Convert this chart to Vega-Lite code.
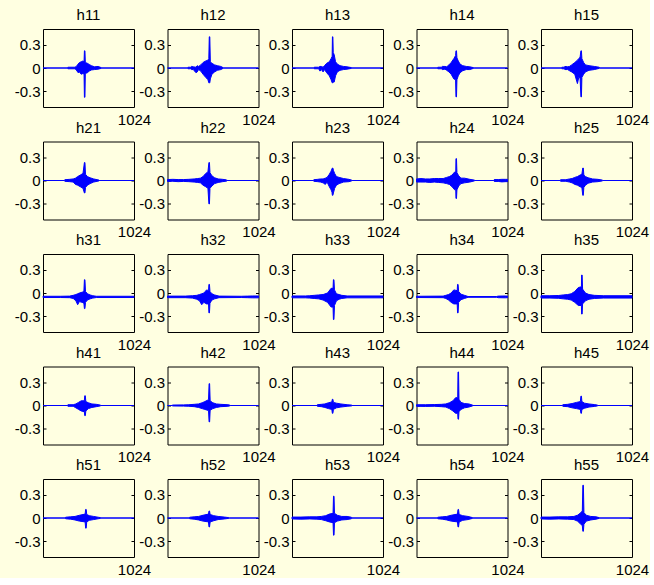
{
"$schema": "https://vega.github.io/schema/vega-lite/v6.json",
"background": "#ffffe1",
"padding": {"left": 13, "top": 7, "right": 0, "bottom": 0},
"bounds": "flush",
"config": {"font": "Liberation Sans", "view": {"stroke": "black", "strokeWidth": 1}},
"data": {"values": [
{"panel":"h11","x":0,"lo":0,"hi":0},{"panel":"h11","x":275,"lo":0,"hi":0},{"panel":"h11","x":280,"lo":-0.01,"hi":0.01},{"panel":"h11","x":360,"lo":-0.01,"hi":0.01},{"panel":"h11","x":375,"lo":-0.025,"hi":0.02},{"panel":"h11","x":395,"lo":-0.06,"hi":0.05},{"panel":"h11","x":410,"lo":-0.05,"hi":0.07},{"panel":"h11","x":430,"lo":-0.08,"hi":0.08},{"panel":"h11","x":450,"lo":-0.07,"hi":0.09},{"panel":"h11","x":462,"lo":-0.08,"hi":0.08},{"panel":"h11","x":466,"lo":-0.375,"hi":0.22},{"panel":"h11","x":472,"lo":-0.375,"hi":0.22},{"panel":"h11","x":476,"lo":-0.07,"hi":0.07},{"panel":"h11","x":500,"lo":-0.06,"hi":0.06},{"panel":"h11","x":520,"lo":-0.04,"hi":0.045},{"panel":"h11","x":545,"lo":-0.025,"hi":0.03},{"panel":"h11","x":580,"lo":-0.02,"hi":0.015},{"panel":"h11","x":620,"lo":-0.015,"hi":0.02},{"panel":"h11","x":655,"lo":-0.005,"hi":0.005},{"panel":"h11","x":662,"lo":0,"hi":0},{"panel":"h11","x":1024,"lo":0,"hi":0},
{"panel":"h12","x":0,"lo":0,"hi":0},{"panel":"h12","x":225,"lo":0,"hi":0},{"panel":"h12","x":230,"lo":-0.01,"hi":0.01},{"panel":"h12","x":260,"lo":-0.01,"hi":0.01},{"panel":"h12","x":270,"lo":-0.02,"hi":0.02},{"panel":"h12","x":290,"lo":-0.02,"hi":0.015},{"panel":"h12","x":320,"lo":-0.06,"hi":0.01},{"panel":"h12","x":335,"lo":-0.05,"hi":0.03},{"panel":"h12","x":350,"lo":-0.02,"hi":0.02},{"panel":"h12","x":375,"lo":-0.04,"hi":0.04},{"panel":"h12","x":400,"lo":-0.08,"hi":0.07},{"panel":"h12","x":430,"lo":-0.12,"hi":0.09},{"panel":"h12","x":455,"lo":-0.15,"hi":0.1},{"panel":"h12","x":465,"lo":-0.19,"hi":0.12},{"panel":"h12","x":470,"lo":-0.19,"hi":0.4},{"panel":"h12","x":476,"lo":-0.19,"hi":0.4},{"panel":"h12","x":482,"lo":-0.14,"hi":0.08},{"panel":"h12","x":500,"lo":-0.08,"hi":0.06},{"panel":"h12","x":530,"lo":-0.05,"hi":0.04},{"panel":"h12","x":560,"lo":-0.03,"hi":0.03},{"panel":"h12","x":600,"lo":-0.02,"hi":0.02},{"panel":"h12","x":625,"lo":-0.005,"hi":0.005},{"panel":"h12","x":632,"lo":0,"hi":0},{"panel":"h12","x":1024,"lo":0,"hi":0},
{"panel":"h13","x":0,"lo":0,"hi":0},{"panel":"h13","x":245,"lo":0,"hi":0},{"panel":"h13","x":250,"lo":-0.01,"hi":0.01},{"panel":"h13","x":300,"lo":-0.01,"hi":0.01},{"panel":"h13","x":315,"lo":-0.04,"hi":0.02},{"panel":"h13","x":330,"lo":-0.02,"hi":0.02},{"panel":"h13","x":350,"lo":-0.05,"hi":0.01},{"panel":"h13","x":365,"lo":-0.02,"hi":0.03},{"panel":"h13","x":390,"lo":-0.06,"hi":0.06},{"panel":"h13","x":420,"lo":-0.1,"hi":0.08},{"panel":"h13","x":440,"lo":-0.15,"hi":0.12},{"panel":"h13","x":452,"lo":-0.19,"hi":0.15},{"panel":"h13","x":455,"lo":-0.19,"hi":0.4},{"panel":"h13","x":460,"lo":-0.19,"hi":0.4},{"panel":"h13","x":464,"lo":-0.18,"hi":0.2},{"panel":"h13","x":475,"lo":-0.18,"hi":0.17},{"panel":"h13","x":490,"lo":-0.1,"hi":0.08},{"panel":"h13","x":510,"lo":-0.05,"hi":0.05},{"panel":"h13","x":540,"lo":-0.03,"hi":0.03},{"panel":"h13","x":580,"lo":-0.02,"hi":0.02},{"panel":"h13","x":620,"lo":-0.015,"hi":0.015},{"panel":"h13","x":670,"lo":-0.005,"hi":0.005},{"panel":"h13","x":675,"lo":0,"hi":0},{"panel":"h13","x":1024,"lo":0,"hi":0},
{"panel":"h14","x":0,"lo":0,"hi":0},{"panel":"h14","x":235,"lo":0,"hi":0},{"panel":"h14","x":240,"lo":-0.01,"hi":0.01},{"panel":"h14","x":280,"lo":-0.01,"hi":0.01},{"panel":"h14","x":290,"lo":-0.02,"hi":0.02},{"panel":"h14","x":320,"lo":-0.015,"hi":0.02},{"panel":"h14","x":340,"lo":-0.03,"hi":0.015},{"panel":"h14","x":365,"lo":-0.05,"hi":0.04},{"panel":"h14","x":390,"lo":-0.08,"hi":0.07},{"panel":"h14","x":420,"lo":-0.14,"hi":0.12},{"panel":"h14","x":440,"lo":-0.15,"hi":0.16},{"panel":"h14","x":444,"lo":-0.37,"hi":0.22},{"panel":"h14","x":450,"lo":-0.37,"hi":0.22},{"panel":"h14","x":455,"lo":-0.15,"hi":0.13},{"panel":"h14","x":470,"lo":-0.1,"hi":0.09},{"panel":"h14","x":490,"lo":-0.06,"hi":0.05},{"panel":"h14","x":520,"lo":-0.035,"hi":0.03},{"panel":"h14","x":560,"lo":-0.02,"hi":0.02},{"panel":"h14","x":600,"lo":-0.02,"hi":0.015},{"panel":"h14","x":640,"lo":-0.005,"hi":0.005},{"panel":"h14","x":648,"lo":0,"hi":0},{"panel":"h14","x":1024,"lo":0,"hi":0},
{"panel":"h15","x":0,"lo":0,"hi":0},{"panel":"h15","x":230,"lo":0,"hi":0},{"panel":"h15","x":235,"lo":-0.01,"hi":0.01},{"panel":"h15","x":260,"lo":-0.01,"hi":0.01},{"panel":"h15","x":270,"lo":-0.02,"hi":0.02},{"panel":"h15","x":300,"lo":-0.02,"hi":0.015},{"panel":"h15","x":320,"lo":-0.035,"hi":0.02},{"panel":"h15","x":345,"lo":-0.05,"hi":0.04},{"panel":"h15","x":380,"lo":-0.08,"hi":0.07},{"panel":"h15","x":410,"lo":-0.2,"hi":0.1},{"panel":"h15","x":425,"lo":-0.12,"hi":0.12},{"panel":"h15","x":440,"lo":-0.13,"hi":0.14},{"panel":"h15","x":449,"lo":-0.37,"hi":0.22},{"panel":"h15","x":455,"lo":-0.37,"hi":0.22},{"panel":"h15","x":460,"lo":-0.12,"hi":0.12},{"panel":"h15","x":480,"lo":-0.08,"hi":0.07},{"panel":"h15","x":500,"lo":-0.05,"hi":0.04},{"panel":"h15","x":540,"lo":-0.03,"hi":0.03},{"panel":"h15","x":600,"lo":-0.02,"hi":0.02},{"panel":"h15","x":655,"lo":-0.005,"hi":0.01},{"panel":"h15","x":662,"lo":0,"hi":0},{"panel":"h15","x":1024,"lo":0,"hi":0},
{"panel":"h21","x":0,"lo":0,"hi":0},{"panel":"h21","x":240,"lo":0,"hi":0},{"panel":"h21","x":245,"lo":-0.01,"hi":0.01},{"panel":"h21","x":300,"lo":-0.015,"hi":0.015},{"panel":"h21","x":340,"lo":-0.02,"hi":0.02},{"panel":"h21","x":365,"lo":-0.05,"hi":0.03},{"panel":"h21","x":390,"lo":-0.06,"hi":0.05},{"panel":"h21","x":420,"lo":-0.08,"hi":0.07},{"panel":"h21","x":450,"lo":-0.1,"hi":0.09},{"panel":"h21","x":466,"lo":-0.16,"hi":0.23},{"panel":"h21","x":472,"lo":-0.16,"hi":0.23},{"panel":"h21","x":478,"lo":-0.09,"hi":0.08},{"panel":"h21","x":500,"lo":-0.06,"hi":0.05},{"panel":"h21","x":530,"lo":-0.04,"hi":0.035},{"panel":"h21","x":570,"lo":-0.02,"hi":0.02},{"panel":"h21","x":630,"lo":-0.005,"hi":0.005},{"panel":"h21","x":636,"lo":0,"hi":0},{"panel":"h21","x":1024,"lo":0,"hi":0},
{"panel":"h22","x":0,"lo":-0.012,"hi":0.012},{"panel":"h22","x":60,"lo":-0.01,"hi":0.015},{"panel":"h22","x":120,"lo":-0.015,"hi":0.012},{"panel":"h22","x":180,"lo":-0.012,"hi":0.012},{"panel":"h22","x":240,"lo":-0.015,"hi":0.015},{"panel":"h22","x":300,"lo":-0.02,"hi":0.02},{"panel":"h22","x":340,"lo":-0.025,"hi":0.025},{"panel":"h22","x":370,"lo":-0.03,"hi":0.03},{"panel":"h22","x":400,"lo":-0.06,"hi":0.05},{"panel":"h22","x":430,"lo":-0.08,"hi":0.09},{"panel":"h22","x":455,"lo":-0.1,"hi":0.11},{"panel":"h22","x":466,"lo":-0.3,"hi":0.23},{"panel":"h22","x":472,"lo":-0.3,"hi":0.23},{"panel":"h22","x":478,"lo":-0.1,"hi":0.1},{"panel":"h22","x":500,"lo":-0.07,"hi":0.06},{"panel":"h22","x":530,"lo":-0.04,"hi":0.035},{"panel":"h22","x":570,"lo":-0.025,"hi":0.02},{"panel":"h22","x":620,"lo":-0.015,"hi":0.015},{"panel":"h22","x":665,"lo":-0.008,"hi":0.008},{"panel":"h22","x":672,"lo":0,"hi":0},{"panel":"h22","x":1024,"lo":0,"hi":0},
{"panel":"h23","x":0,"lo":0,"hi":0},{"panel":"h23","x":240,"lo":0,"hi":0},{"panel":"h23","x":245,"lo":-0.01,"hi":0.01},{"panel":"h23","x":290,"lo":-0.015,"hi":0.015},{"panel":"h23","x":320,"lo":-0.02,"hi":0.02},{"panel":"h23","x":350,"lo":-0.03,"hi":0.02},{"panel":"h23","x":375,"lo":-0.05,"hi":0.03},{"panel":"h23","x":395,"lo":-0.02,"hi":0.04},{"panel":"h23","x":420,"lo":-0.08,"hi":0.08},{"panel":"h23","x":440,"lo":-0.12,"hi":0.12},{"panel":"h23","x":450,"lo":-0.15,"hi":0.15},{"panel":"h23","x":454,"lo":-0.19,"hi":0.16},{"panel":"h23","x":460,"lo":-0.19,"hi":0.16},{"panel":"h23","x":466,"lo":-0.16,"hi":0.13},{"panel":"h23","x":480,"lo":-0.1,"hi":0.09},{"panel":"h23","x":500,"lo":-0.06,"hi":0.05},{"panel":"h23","x":530,"lo":-0.04,"hi":0.04},{"panel":"h23","x":580,"lo":-0.02,"hi":0.025},{"panel":"h23","x":640,"lo":-0.015,"hi":0.015},{"panel":"h23","x":670,"lo":-0.005,"hi":0.005},{"panel":"h23","x":675,"lo":0,"hi":0},{"panel":"h23","x":1024,"lo":0,"hi":0},
{"panel":"h24","x":0,"lo":-0.02,"hi":0.02},{"panel":"h24","x":50,"lo":-0.02,"hi":0.025},{"panel":"h24","x":100,"lo":-0.02,"hi":0.02},{"panel":"h24","x":150,"lo":-0.025,"hi":0.02},{"panel":"h24","x":200,"lo":-0.02,"hi":0.025},{"panel":"h24","x":250,"lo":-0.025,"hi":0.025},{"panel":"h24","x":300,"lo":-0.03,"hi":0.025},{"panel":"h24","x":340,"lo":-0.04,"hi":0.04},{"panel":"h24","x":370,"lo":-0.05,"hi":0.05},{"panel":"h24","x":400,"lo":-0.08,"hi":0.07},{"panel":"h24","x":430,"lo":-0.12,"hi":0.11},{"panel":"h24","x":442,"lo":-0.12,"hi":0.11},{"panel":"h24","x":444,"lo":-0.23,"hi":0.28},{"panel":"h24","x":450,"lo":-0.23,"hi":0.28},{"panel":"h24","x":455,"lo":-0.12,"hi":0.1},{"panel":"h24","x":475,"lo":-0.07,"hi":0.06},{"panel":"h24","x":500,"lo":-0.04,"hi":0.03},{"panel":"h24","x":540,"lo":-0.03,"hi":0.03},{"panel":"h24","x":600,"lo":-0.02,"hi":0.015},{"panel":"h24","x":650,"lo":-0.005,"hi":0.005},{"panel":"h24","x":658,"lo":0,"hi":0},{"panel":"h24","x":868,"lo":0,"hi":0},{"panel":"h24","x":875,"lo":-0.012,"hi":0.012},{"panel":"h24","x":920,"lo":-0.012,"hi":0.012},{"panel":"h24","x":960,"lo":-0.018,"hi":0.015},{"panel":"h24","x":1000,"lo":-0.015,"hi":0.015},{"panel":"h24","x":1024,"lo":-0.015,"hi":0.015},
{"panel":"h25","x":0,"lo":0,"hi":0},{"panel":"h25","x":215,"lo":0,"hi":0},{"panel":"h25","x":220,"lo":-0.01,"hi":0.01},{"panel":"h25","x":280,"lo":-0.01,"hi":0.01},{"panel":"h25","x":320,"lo":-0.02,"hi":0.02},{"panel":"h25","x":350,"lo":-0.03,"hi":0.025},{"panel":"h25","x":380,"lo":-0.05,"hi":0.04},{"panel":"h25","x":410,"lo":-0.06,"hi":0.05},{"panel":"h25","x":440,"lo":-0.08,"hi":0.07},{"panel":"h25","x":460,"lo":-0.09,"hi":0.08},{"panel":"h25","x":470,"lo":-0.19,"hi":0.16},{"panel":"h25","x":476,"lo":-0.19,"hi":0.16},{"panel":"h25","x":482,"lo":-0.09,"hi":0.07},{"panel":"h25","x":500,"lo":-0.06,"hi":0.05},{"panel":"h25","x":530,"lo":-0.035,"hi":0.035},{"panel":"h25","x":580,"lo":-0.02,"hi":0.02},{"panel":"h25","x":640,"lo":-0.015,"hi":0.015},{"panel":"h25","x":690,"lo":-0.005,"hi":0.005},{"panel":"h25","x":696,"lo":0,"hi":0},{"panel":"h25","x":1024,"lo":0,"hi":0},
{"panel":"h31","x":0,"lo":-0.058,"hi":-0.042},{"panel":"h31","x":200,"lo":-0.058,"hi":-0.042},{"panel":"h31","x":300,"lo":-0.06,"hi":-0.04},{"panel":"h31","x":340,"lo":-0.07,"hi":-0.03},{"panel":"h31","x":370,"lo":-0.1,"hi":-0.02},{"panel":"h31","x":390,"lo":-0.15,"hi":-0.01},{"panel":"h31","x":410,"lo":-0.11,"hi":0.0},{"panel":"h31","x":440,"lo":-0.12,"hi":0.01},{"panel":"h31","x":460,"lo":-0.13,"hi":0.02},{"panel":"h31","x":466,"lo":-0.2,"hi":0.17},{"panel":"h31","x":472,"lo":-0.2,"hi":0.17},{"panel":"h31","x":478,"lo":-0.12,"hi":0.02},{"panel":"h31","x":500,"lo":-0.09,"hi":-0.01},{"panel":"h31","x":530,"lo":-0.075,"hi":-0.025},{"panel":"h31","x":560,"lo":-0.065,"hi":-0.035},{"panel":"h31","x":600,"lo":-0.058,"hi":-0.042},{"panel":"h31","x":1024,"lo":-0.058,"hi":-0.042},
{"panel":"h32","x":0,"lo":-0.06,"hi":-0.04},{"panel":"h32","x":200,"lo":-0.06,"hi":-0.04},{"panel":"h32","x":280,"lo":-0.065,"hi":-0.035},{"panel":"h32","x":330,"lo":-0.08,"hi":-0.03},{"panel":"h32","x":360,"lo":-0.1,"hi":-0.02},{"panel":"h32","x":385,"lo":-0.15,"hi":-0.01},{"panel":"h32","x":410,"lo":-0.12,"hi":0.0},{"panel":"h32","x":440,"lo":-0.14,"hi":0.04},{"panel":"h32","x":462,"lo":-0.14,"hi":0.03},{"panel":"h32","x":466,"lo":-0.255,"hi":0.11},{"panel":"h32","x":472,"lo":-0.255,"hi":0.11},{"panel":"h32","x":478,"lo":-0.13,"hi":0.02},{"panel":"h32","x":500,"lo":-0.09,"hi":-0.01},{"panel":"h32","x":530,"lo":-0.075,"hi":-0.025},{"panel":"h32","x":580,"lo":-0.06,"hi":-0.04},{"panel":"h32","x":830,"lo":-0.058,"hi":-0.042},{"panel":"h32","x":900,"lo":-0.06,"hi":-0.04},{"panel":"h32","x":960,"lo":-0.062,"hi":-0.038},{"panel":"h32","x":1024,"lo":-0.062,"hi":-0.038},
{"panel":"h33","x":0,"lo":-0.062,"hi":-0.038},{"panel":"h33","x":150,"lo":-0.062,"hi":-0.038},{"panel":"h33","x":200,"lo":-0.065,"hi":-0.035},{"panel":"h33","x":250,"lo":-0.07,"hi":-0.03},{"panel":"h33","x":300,"lo":-0.075,"hi":-0.025},{"panel":"h33","x":350,"lo":-0.09,"hi":-0.02},{"panel":"h33","x":400,"lo":-0.12,"hi":0.0},{"panel":"h33","x":440,"lo":-0.18,"hi":0.06},{"panel":"h33","x":462,"lo":-0.18,"hi":0.06},{"panel":"h33","x":466,"lo":-0.34,"hi":0.17},{"panel":"h33","x":472,"lo":-0.34,"hi":0.17},{"panel":"h33","x":478,"lo":-0.16,"hi":0.04},{"panel":"h33","x":500,"lo":-0.1,"hi":-0.01},{"panel":"h33","x":530,"lo":-0.08,"hi":-0.02},{"panel":"h33","x":560,"lo":-0.07,"hi":-0.03},{"panel":"h33","x":620,"lo":-0.062,"hi":-0.038},{"panel":"h33","x":1024,"lo":-0.062,"hi":-0.038},
{"panel":"h34","x":0,"lo":-0.058,"hi":-0.042},{"panel":"h34","x":300,"lo":-0.06,"hi":-0.04},{"panel":"h34","x":330,"lo":-0.07,"hi":-0.03},{"panel":"h34","x":360,"lo":-0.09,"hi":-0.02},{"panel":"h34","x":390,"lo":-0.12,"hi":0.0},{"panel":"h34","x":420,"lo":-0.14,"hi":0.04},{"panel":"h34","x":458,"lo":-0.14,"hi":0.03},{"panel":"h34","x":462,"lo":-0.255,"hi":0.11},{"panel":"h34","x":468,"lo":-0.255,"hi":0.11},{"panel":"h34","x":474,"lo":-0.12,"hi":0.02},{"panel":"h34","x":500,"lo":-0.085,"hi":-0.015},{"panel":"h34","x":540,"lo":-0.07,"hi":-0.03},{"panel":"h34","x":580,"lo":-0.055,"hi":-0.045},{"panel":"h34","x":900,"lo":-0.055,"hi":-0.045},{"panel":"h34","x":920,"lo":-0.06,"hi":-0.04},{"panel":"h34","x":1000,"lo":-0.062,"hi":-0.038},{"panel":"h34","x":1024,"lo":-0.06,"hi":-0.04},
{"panel":"h35","x":0,"lo":-0.065,"hi":-0.035},{"panel":"h35","x":100,"lo":-0.065,"hi":-0.035},{"panel":"h35","x":200,"lo":-0.068,"hi":-0.032},{"panel":"h35","x":250,"lo":-0.075,"hi":-0.025},{"panel":"h35","x":300,"lo":-0.08,"hi":-0.02},{"panel":"h35","x":340,"lo":-0.09,"hi":-0.01},{"panel":"h35","x":380,"lo":-0.12,"hi":0.02},{"panel":"h35","x":420,"lo":-0.16,"hi":0.07},{"panel":"h35","x":455,"lo":-0.16,"hi":0.08},{"panel":"h35","x":457,"lo":-0.27,"hi":0.23},{"panel":"h35","x":463,"lo":-0.27,"hi":0.23},{"panel":"h35","x":468,"lo":-0.14,"hi":0.05},{"panel":"h35","x":500,"lo":-0.1,"hi":0.0},{"panel":"h35","x":540,"lo":-0.08,"hi":-0.02},{"panel":"h35","x":600,"lo":-0.07,"hi":-0.03},{"panel":"h35","x":700,"lo":-0.065,"hi":-0.035},{"panel":"h35","x":1024,"lo":-0.065,"hi":-0.035},
{"panel":"h41","x":0,"lo":0,"hi":0},{"panel":"h41","x":275,"lo":0,"hi":0},{"panel":"h41","x":280,"lo":-0.01,"hi":0.01},{"panel":"h41","x":340,"lo":-0.01,"hi":0.01},{"panel":"h41","x":370,"lo":-0.03,"hi":0.02},{"panel":"h41","x":400,"lo":-0.05,"hi":0.04},{"panel":"h41","x":430,"lo":-0.07,"hi":0.06},{"panel":"h41","x":465,"lo":-0.08,"hi":0.06},{"panel":"h41","x":470,"lo":-0.13,"hi":0.125},{"panel":"h41","x":476,"lo":-0.13,"hi":0.125},{"panel":"h41","x":482,"lo":-0.07,"hi":0.05},{"panel":"h41","x":510,"lo":-0.04,"hi":0.035},{"panel":"h41","x":550,"lo":-0.025,"hi":0.02},{"panel":"h41","x":600,"lo":-0.015,"hi":0.015},{"panel":"h41","x":645,"lo":-0.005,"hi":0.005},{"panel":"h41","x":651,"lo":0,"hi":0},{"panel":"h41","x":1024,"lo":0,"hi":0},
{"panel":"h42","x":0,"lo":0,"hi":0},{"panel":"h42","x":50,"lo":0,"hi":0},{"panel":"h42","x":60,"lo":-0.006,"hi":0.006},{"panel":"h42","x":180,"lo":-0.008,"hi":0.008},{"panel":"h42","x":240,"lo":-0.01,"hi":0.01},{"panel":"h42","x":300,"lo":-0.015,"hi":0.015},{"panel":"h42","x":350,"lo":-0.025,"hi":0.02},{"panel":"h42","x":390,"lo":-0.04,"hi":0.035},{"panel":"h42","x":420,"lo":-0.05,"hi":0.05},{"panel":"h42","x":462,"lo":-0.065,"hi":0.075},{"panel":"h42","x":468,"lo":-0.21,"hi":0.28},{"panel":"h42","x":474,"lo":-0.21,"hi":0.28},{"panel":"h42","x":480,"lo":-0.06,"hi":0.06},{"panel":"h42","x":510,"lo":-0.04,"hi":0.035},{"panel":"h42","x":550,"lo":-0.025,"hi":0.02},{"panel":"h42","x":600,"lo":-0.015,"hi":0.015},{"panel":"h42","x":680,"lo":-0.01,"hi":0.01},{"panel":"h42","x":700,"lo":-0.005,"hi":0.005},{"panel":"h42","x":710,"lo":0,"hi":0},{"panel":"h42","x":1024,"lo":0,"hi":0},
{"panel":"h43","x":0,"lo":0,"hi":0},{"panel":"h43","x":280,"lo":0,"hi":0},{"panel":"h43","x":285,"lo":-0.01,"hi":0.01},{"panel":"h43","x":330,"lo":-0.015,"hi":0.015},{"panel":"h43","x":370,"lo":-0.025,"hi":0.02},{"panel":"h43","x":410,"lo":-0.04,"hi":0.035},{"panel":"h43","x":448,"lo":-0.05,"hi":0.045},{"panel":"h43","x":454,"lo":-0.1,"hi":0.08},{"panel":"h43","x":460,"lo":-0.1,"hi":0.08},{"panel":"h43","x":466,"lo":-0.05,"hi":0.04},{"panel":"h43","x":500,"lo":-0.03,"hi":0.03},{"panel":"h43","x":550,"lo":-0.02,"hi":0.02},{"panel":"h43","x":620,"lo":-0.01,"hi":0.01},{"panel":"h43","x":670,"lo":-0.005,"hi":0.005},{"panel":"h43","x":675,"lo":0,"hi":0},{"panel":"h43","x":1024,"lo":0,"hi":0},
{"panel":"h44","x":0,"lo":-0.01,"hi":0.01},{"panel":"h44","x":100,"lo":-0.012,"hi":0.01},{"panel":"h44","x":200,"lo":-0.01,"hi":0.012},{"panel":"h44","x":280,"lo":-0.015,"hi":0.015},{"panel":"h44","x":330,"lo":-0.02,"hi":0.02},{"panel":"h44","x":370,"lo":-0.04,"hi":0.035},{"panel":"h44","x":410,"lo":-0.07,"hi":0.06},{"panel":"h44","x":440,"lo":-0.1,"hi":0.1},{"panel":"h44","x":464,"lo":-0.1,"hi":0.1},{"panel":"h44","x":467,"lo":-0.175,"hi":0.43},{"panel":"h44","x":473,"lo":-0.175,"hi":0.43},{"panel":"h44","x":478,"lo":-0.08,"hi":0.08},{"panel":"h44","x":500,"lo":-0.05,"hi":0.04},{"panel":"h44","x":540,"lo":-0.03,"hi":0.025},{"panel":"h44","x":590,"lo":-0.02,"hi":0.02},{"panel":"h44","x":630,"lo":-0.005,"hi":0.005},{"panel":"h44","x":636,"lo":0,"hi":0},{"panel":"h44","x":1024,"lo":0,"hi":0},
{"panel":"h45","x":0,"lo":0,"hi":0},{"panel":"h45","x":240,"lo":0,"hi":0},{"panel":"h45","x":245,"lo":-0.01,"hi":0.01},{"panel":"h45","x":300,"lo":-0.015,"hi":0.015},{"panel":"h45","x":350,"lo":-0.03,"hi":0.025},{"panel":"h45","x":400,"lo":-0.04,"hi":0.04},{"panel":"h45","x":443,"lo":-0.05,"hi":0.05},{"panel":"h45","x":449,"lo":-0.1,"hi":0.12},{"panel":"h45","x":455,"lo":-0.1,"hi":0.12},{"panel":"h45","x":460,"lo":-0.05,"hi":0.05},{"panel":"h45","x":490,"lo":-0.035,"hi":0.03},{"panel":"h45","x":540,"lo":-0.02,"hi":0.02},{"panel":"h45","x":600,"lo":-0.012,"hi":0.012},{"panel":"h45","x":635,"lo":-0.005,"hi":0.005},{"panel":"h45","x":640,"lo":0,"hi":0},{"panel":"h45","x":1024,"lo":0,"hi":0},
{"panel":"h51","x":0,"lo":0,"hi":0},{"panel":"h51","x":250,"lo":0,"hi":0},{"panel":"h51","x":255,"lo":-0.01,"hi":0.01},{"panel":"h51","x":310,"lo":-0.015,"hi":0.015},{"panel":"h51","x":360,"lo":-0.025,"hi":0.02},{"panel":"h51","x":410,"lo":-0.04,"hi":0.035},{"panel":"h51","x":474,"lo":-0.05,"hi":0.05},{"panel":"h51","x":480,"lo":-0.13,"hi":0.11},{"panel":"h51","x":486,"lo":-0.13,"hi":0.11},{"panel":"h51","x":492,"lo":-0.05,"hi":0.045},{"panel":"h51","x":520,"lo":-0.03,"hi":0.03},{"panel":"h51","x":570,"lo":-0.02,"hi":0.02},{"panel":"h51","x":620,"lo":-0.01,"hi":0.01},{"panel":"h51","x":648,"lo":-0.005,"hi":0.005},{"panel":"h51","x":652,"lo":0,"hi":0},{"panel":"h51","x":1024,"lo":0,"hi":0},
{"panel":"h52","x":0,"lo":0,"hi":0},{"panel":"h52","x":245,"lo":0,"hi":0},{"panel":"h52","x":250,"lo":-0.01,"hi":0.01},{"panel":"h52","x":300,"lo":-0.015,"hi":0.015},{"panel":"h52","x":350,"lo":-0.025,"hi":0.02},{"panel":"h52","x":400,"lo":-0.04,"hi":0.035},{"panel":"h52","x":461,"lo":-0.05,"hi":0.05},{"panel":"h52","x":467,"lo":-0.115,"hi":0.09},{"panel":"h52","x":473,"lo":-0.115,"hi":0.09},{"panel":"h52","x":480,"lo":-0.05,"hi":0.045},{"panel":"h52","x":520,"lo":-0.035,"hi":0.03},{"panel":"h52","x":570,"lo":-0.02,"hi":0.02},{"panel":"h52","x":640,"lo":-0.012,"hi":0.012},{"panel":"h52","x":690,"lo":-0.005,"hi":0.005},{"panel":"h52","x":695,"lo":0,"hi":0},{"panel":"h52","x":1024,"lo":0,"hi":0},
{"panel":"h53","x":0,"lo":-0.012,"hi":0.012},{"panel":"h53","x":100,"lo":-0.015,"hi":0.012},{"panel":"h53","x":200,"lo":-0.012,"hi":0.015},{"panel":"h53","x":280,"lo":-0.015,"hi":0.015},{"panel":"h53","x":330,"lo":-0.02,"hi":0.02},{"panel":"h53","x":380,"lo":-0.035,"hi":0.03},{"panel":"h53","x":420,"lo":-0.05,"hi":0.05},{"panel":"h53","x":462,"lo":-0.06,"hi":0.06},{"panel":"h53","x":467,"lo":-0.22,"hi":0.28},{"panel":"h53","x":473,"lo":-0.22,"hi":0.28},{"panel":"h53","x":478,"lo":-0.06,"hi":0.06},{"panel":"h53","x":510,"lo":-0.04,"hi":0.035},{"panel":"h53","x":560,"lo":-0.025,"hi":0.02},{"panel":"h53","x":620,"lo":-0.02,"hi":0.02},{"panel":"h53","x":668,"lo":-0.01,"hi":0.01},{"panel":"h53","x":675,"lo":0,"hi":0},{"panel":"h53","x":1024,"lo":0,"hi":0},
{"panel":"h54","x":0,"lo":0,"hi":0},{"panel":"h54","x":235,"lo":0,"hi":0},{"panel":"h54","x":240,"lo":-0.01,"hi":0.01},{"panel":"h54","x":290,"lo":-0.015,"hi":0.015},{"panel":"h54","x":340,"lo":-0.025,"hi":0.02},{"panel":"h54","x":390,"lo":-0.04,"hi":0.035},{"panel":"h54","x":461,"lo":-0.05,"hi":0.05},{"panel":"h54","x":467,"lo":-0.115,"hi":0.11},{"panel":"h54","x":473,"lo":-0.115,"hi":0.11},{"panel":"h54","x":480,"lo":-0.05,"hi":0.045},{"panel":"h54","x":520,"lo":-0.03,"hi":0.03},{"panel":"h54","x":580,"lo":-0.02,"hi":0.02},{"panel":"h54","x":630,"lo":-0.005,"hi":0.005},{"panel":"h54","x":636,"lo":0,"hi":0},{"panel":"h54","x":1024,"lo":0,"hi":0},
{"panel":"h55","x":0,"lo":-0.012,"hi":0.012},{"panel":"h55","x":100,"lo":-0.015,"hi":0.012},{"panel":"h55","x":200,"lo":-0.012,"hi":0.015},{"panel":"h55","x":300,"lo":-0.015,"hi":0.015},{"panel":"h55","x":370,"lo":-0.02,"hi":0.02},{"panel":"h55","x":410,"lo":-0.04,"hi":0.035},{"panel":"h55","x":440,"lo":-0.07,"hi":0.06},{"panel":"h55","x":465,"lo":-0.1,"hi":0.09},{"panel":"h55","x":471,"lo":-0.17,"hi":0.42},{"panel":"h55","x":477,"lo":-0.17,"hi":0.42},{"panel":"h55","x":483,"lo":-0.08,"hi":0.07},{"panel":"h55","x":510,"lo":-0.04,"hi":0.035},{"panel":"h55","x":560,"lo":-0.025,"hi":0.02},{"panel":"h55","x":620,"lo":-0.015,"hi":0.015},{"panel":"h55","x":655,"lo":-0.005,"hi":0.005},{"panel":"h55","x":662,"lo":0,"hi":0},{"panel":"h55","x":1024,"lo":0,"hi":0}
]},
"facet": {"field": "panel", "type": "nominal", "header": {"title": null, "labelFont": "Liberation Sans", "labelFontSize": 15, "labelColor": "black", "labelPadding": 6}},
"columns": 5,
"spacing": {"column": 33.5, "row": 34.5},
"spec": {
  "width": 91,
  "height": 78,
  "layer": [
    {
      "mark": {"type": "area", "color": "#0000ff", "stroke": "#0000ff", "strokeWidth": 1, "opacity": 1},
      "encoding": {
        "x": {"field": "x", "type": "quantitative", "scale": {"domain": [0, 1024], "nice": false, "zero": false},
              "axis": {"values": [1024], "format": "d", "title": null, "grid": false, "domain": false, "ticks": false, "labelFlush": false, "labelFont": "Liberation Sans", "labelFontSize": 15, "labelColor": "black", "labelPadding": 5}},
        "y": {"field": "hi", "type": "quantitative", "scale": {"domain": [-0.5, 0.5], "nice": false, "zero": false},
              "axis": {"orient": "left", "values": [-0.3, 0, 0.3], "title": null, "grid": false, "domain": false, "ticks": true, "tickSize": -3, "tickColor": "black", "labelPadding": 6, "labelFont": "Liberation Sans", "labelFontSize": 15, "labelColor": "black",
                       "labelExpr": "datum.value == 0 ? '0' : (datum.value < 0 ? '-' : '') + format(abs(datum.value), '.1f')"}},
        "y2": {"field": "lo"}
      }
    },
    {
      "mark": {"type": "rule", "opacity": 0},
      "encoding": {
        "y": {"field": "hi", "type": "quantitative", "scale": {"domain": [-0.5, 0.5], "nice": false, "zero": false},
              "axis": {"orient": "right", "values": [-0.3, 0, 0.3], "title": null, "grid": false, "domain": false, "labels": false, "ticks": true, "tickSize": -3, "tickColor": "black"}}
      }
    }
  ],
  "resolve": {"axis": {"y": "independent"}}
},
"resolve": {"axis": {"x": "independent", "y": "independent"}}
}
